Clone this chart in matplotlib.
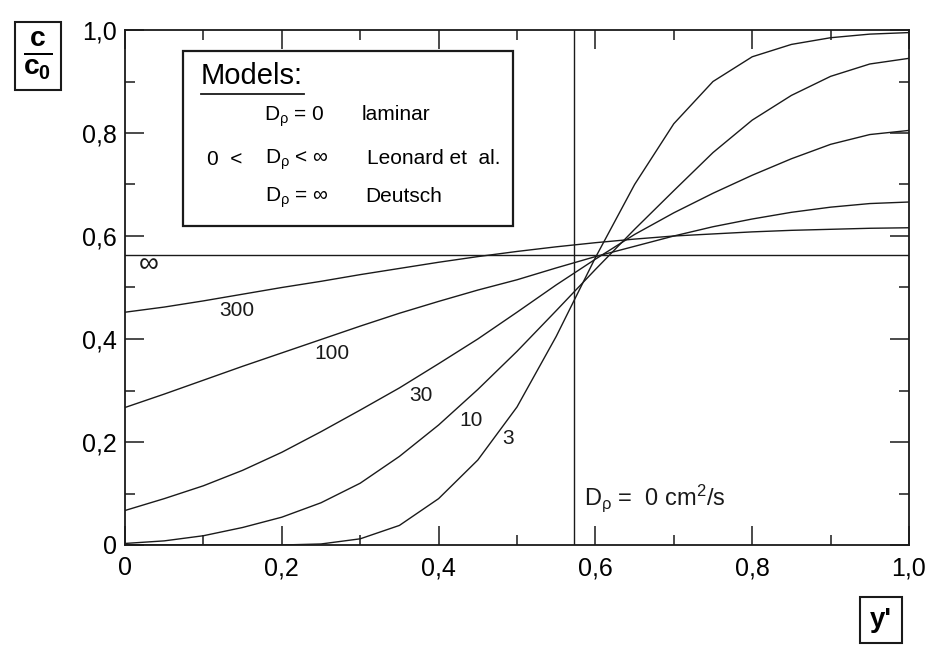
import matplotlib
matplotlib.use("Agg")
import matplotlib.pyplot as plt
from matplotlib.ticker import MultipleLocator, FixedLocator, FixedFormatter
from matplotlib.patches import Rectangle

plt.rcParams['font.family'] = ['Liberation Sans', 'DejaVu Sans']
plt.rcParams['mathtext.fontset'] = 'custom'
plt.rcParams['mathtext.rm'] = 'Liberation Sans'
plt.rcParams['mathtext.it'] = 'Liberation Sans:italic'
plt.rcParams['mathtext.bf'] = 'Liberation Sans:bold'

# ---- data ----
x = [0.00, 0.05, 0.10, 0.15, 0.20, 0.25, 0.30, 0.35, 0.40, 0.45, 0.50,
     0.55, 0.60, 0.65, 0.70, 0.75, 0.80, 0.85, 0.90, 0.95, 1.00]

c_d3 = [0.000, 0.000, 0.000, 0.000, 0.000, 0.002, 0.012, 0.038, 0.090, 0.165, 0.268,
        0.405, 0.558, 0.700, 0.818, 0.900, 0.948, 0.972, 0.985, 0.992, 0.995]
c_d10 = [0.003, 0.008, 0.018, 0.034, 0.054, 0.082, 0.120, 0.172, 0.233, 0.302, 0.376,
         0.455, 0.535, 0.613, 0.688, 0.762, 0.825, 0.873, 0.910, 0.934, 0.945]
c_d30 = [0.067, 0.090, 0.115, 0.145, 0.180, 0.220, 0.262, 0.305, 0.352, 0.400, 0.452,
         0.505, 0.555, 0.603, 0.645, 0.683, 0.718, 0.750, 0.778, 0.797, 0.805]
c_d100 = [0.267, 0.293, 0.320, 0.347, 0.373, 0.399, 0.425, 0.450, 0.473, 0.495, 0.515,
          0.538, 0.560, 0.580, 0.600, 0.618, 0.633, 0.646, 0.656, 0.663, 0.666]
c_d300 = [0.452, 0.462, 0.474, 0.487, 0.500, 0.512, 0.525, 0.537, 0.549, 0.560, 0.570,
          0.579, 0.587, 0.594, 0.600, 0.604, 0.608, 0.611, 0.613, 0.615, 0.616]
x_inf = [0.0, 1.0]
c_inf = [0.563, 0.563]
x_laminar = [0.573, 0.573]
c_laminar = [0.0, 1.0]

curve_labels = ["3", "10", "30", "100", "300", "\u221e"]
label_pos_x = [0.489, 0.442, 0.377, 0.264, 0.142, 0.030]
label_pos_y = [0.207, 0.241, 0.291, 0.372, 0.456, 0.544]

xticks = [0.0, 0.2, 0.4, 0.6, 0.8, 1.0]
xticklabels = ["0", "0,2", "0,4", "0,6", "0,8", "1,0"]
yticks = [0.0, 0.2, 0.4, 0.6, 0.8, 1.0]
yticklabels = ["0", "0,2", "0,4", "0,6", "0,8", "1,0"]

# ---- figure ----
W, H = 928, 645
fig = plt.figure(figsize=(W / 100, H / 100), dpi=100)
L, R, T, B = 125, 909, 30, 545
ax = fig.add_axes([L / W, 1 - B / H, (R - L) / W, (B - T) / H])

ink = '#1a1a1a'
lw = 1.0
for yy in [c_d3, c_d10, c_d30, c_d100, c_d300]:
    ax.plot(x, yy, color=ink, lw=lw)
ax.plot(x_inf, c_inf, color=ink, lw=lw)
ax.plot(x_laminar, c_laminar, color=ink, lw=lw)

ax.set_xlim(0, 1)
ax.set_ylim(0, 1)

for s in ax.spines.values():
    s.set_linewidth(1.3)
    s.set_color(ink)

ax.xaxis.set_major_locator(FixedLocator(xticks))
ax.xaxis.set_major_formatter(FixedFormatter(xticklabels))
ax.yaxis.set_major_locator(FixedLocator(yticks))
ax.yaxis.set_major_formatter(FixedFormatter(yticklabels))
ax.xaxis.set_minor_locator(MultipleLocator(0.1))
ax.yaxis.set_minor_locator(MultipleLocator(0.1))
ax.tick_params(which='both', direction='in', top=True, right=True, color=ink)
ax.tick_params(which='major', length=14, width=1.1, labelsize=18)
ax.tick_params(which='minor', length=7, width=1.1)
ax.tick_params(axis='x', which='major', pad=8)
ax.tick_params(axis='y', which='major', pad=6)

for lab, lx, ly in zip(curve_labels, label_pos_x, label_pos_y):
    ax.text(lx, ly, lab, fontsize=15 if lab != "\u221e" else 20,
            ha='center', va='center', color=ink)

ax.text(0.585, 0.09, r'D$_{\mathrm{ρ}}$ =  0 cm$^{2}$/s', fontsize=17,
        ha='left', va='center', color=ink)

# legend box
ax.add_patch(Rectangle((0.074, 0.619), 0.495 - 0.074, 0.959 - 0.619,
                       transform=ax.transData, fill=True, fc='white',
                       ec=ink, lw=1.6, zorder=5))
ax.text(0.097, 0.911, 'Models:', fontsize=21, ha='left', va='center', zorder=6)
ax.plot([0.097, 0.228], [0.876, 0.876], color=ink, lw=1.3, zorder=6)
fs = 15
ax.text(0.177, 0.831, r'D$_{\mathrm{ρ}}$ = 0', fontsize=fs, ha='left', va='center', zorder=6)
ax.text(0.302, 0.835, 'laminar', fontsize=fs, ha='left', va='center', zorder=6)
ax.text(0.105, 0.749, '0  <', fontsize=fs, ha='left', va='center', zorder=6)
ax.text(0.179, 0.749, r'D$_{\mathrm{ρ}}$ < ∞', fontsize=fs, ha='left', va='center', zorder=6)
ax.text(0.309, 0.751, 'Leonard et  al.', fontsize=fs, ha='left', va='center', zorder=6)
ax.text(0.178, 0.674, r'D$_{\mathrm{ρ}}$ = ∞', fontsize=fs, ha='left', va='center', zorder=6)
ax.text(0.307, 0.676, 'Deutsch', fontsize=fs, ha='left', va='center', zorder=6)

# axis label boxes
fig.text(38 / W, 1 - 56 / H, r'$\frac{\mathbf{c}}{\mathbf{c_0}}$', fontsize=29,
         ha='center', va='center',
         bbox=dict(boxstyle='square,pad=0.2', fc='white', ec=ink, lw=1.5))
fig.text(881 / W, 1 - 620 / H, "y'", fontsize=20, fontweight='bold',
         ha='center', va='center',
         bbox=dict(boxstyle='square,pad=0.35', fc='white', ec=ink, lw=1.5))

fig.savefig('out.png', dpi=100)
